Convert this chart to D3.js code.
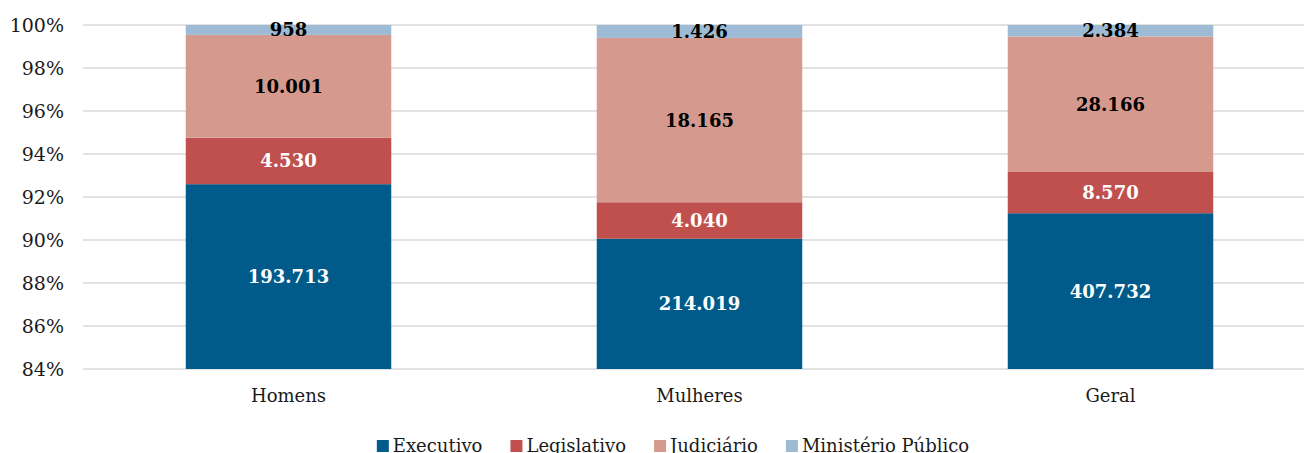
<!DOCTYPE html>
<html>
<head>
<meta charset="utf-8">
<script src="https://cdn.jsdelivr.net/npm/d3@7"></script>
<style>
  body { margin: 0; background: #fff; }
  svg { display: block; font-family: "DejaVu Serif", serif; }
</style>
</head>
<body>
<div id="chart"></div>
<script>
const categories = ["Homens", "Mulheres", "Geral"];
const seriesNames = ["Executivo", "Legislativo", "Judiciário", "Ministério Público"];
const executivo = [193713, 214019, 407732];
const legislativo = [4530, 4040, 8570];
const judiciario = [10001, 18165, 28166];
const ministerio = [958, 1426, 2384];
const yTicks = [0.84, 0.86, 0.88, 0.90, 0.92, 0.94, 0.96, 0.98, 1.00];

const colors = ["#005b8a", "#c0504d", "#d6998d", "#9dbbd5"];
const labelColors = ["#fff", "#fff", "#000", "#000"];

const width = 1304, height = 453;
const plotLeft = 83, plotRight = 1316, plotTop = 25, plotBottom = 369;

const svg = d3.select("#chart").append("svg")
    .attr("width", width)
    .attr("height", height);

const rows = categories.map((c, i) => {
    const vals = [executivo[i], legislativo[i], judiciario[i], ministerio[i]];
    const total = d3.sum(vals);
    let acc = 0;
    const segs = vals.map((v, k) => {
        const s = {cat: c, key: k, value: v, y0: acc / total, y1: (acc + v) / total};
        acc += v;
        return s;
    });
    return {cat: c, segs: segs};
});

const x = d3.scaleBand()
    .domain(categories)
    .range([plotLeft, plotRight])
    .paddingInner(0.5)
    .paddingOuter(0.25);

const y = d3.scaleLinear()
    .domain([0.84, 1])
    .range([plotBottom, plotTop]);

// grid
svg.append("g")
    .selectAll("line")
    .data(yTicks)
    .join("line")
    .attr("x1", plotLeft)
    .attr("x2", width)
    .attr("y1", d => y(d))
    .attr("y2", d => y(d))
    .attr("stroke", "#d9d9d9")
    .attr("stroke-width", 1.5);

// y labels
svg.append("g")
    .selectAll("text")
    .data(yTicks)
    .join("text")
    .attr("x", 64)
    .attr("y", d => y(d))
    .attr("dy", "0.35em")
    .attr("text-anchor", "end")
    .attr("font-size", 19)
    .attr("fill", "#1a1a1a")
    .text(d => d3.format(".0%")(d));

const locale = d3.formatLocale({decimal: ",", thousands: ".", grouping: [3], currency: ["R$", ""]});
const fmt = locale.format(",d");

const clampY = v => y(Math.max(v, 0.84));

const bars = svg.append("g")
    .selectAll("g")
    .data(rows)
    .join("g");

bars.selectAll("rect")
    .data(d => d.segs)
    .join("rect")
    .attr("x", d => x(d.cat))
    .attr("width", x.bandwidth())
    .attr("y", d => clampY(d.y1))
    .attr("height", d => clampY(d.y0) - clampY(d.y1))
    .attr("fill", d => colors[d.key]);

bars.selectAll("text")
    .data(d => d.segs)
    .join("text")
    .attr("x", d => x(d.cat) + x.bandwidth() / 2)
    .attr("y", d => (clampY(d.y0) + clampY(d.y1)) / 2)
    .attr("dy", "0.36em")
    .attr("text-anchor", "middle")
    .attr("font-size", 18)
    .attr("font-weight", "bold")
    .attr("fill", d => labelColors[d.key])
    .text(d => fmt(d.value));

// category labels
svg.append("g")
    .selectAll("text")
    .data(categories)
    .join("text")
    .attr("x", d => x(d) + x.bandwidth() / 2)
    .attr("y", 396)
    .attr("dy", "0.35em")
    .attr("text-anchor", "middle")
    .attr("font-size", 18)
    .attr("fill", "#1a1a1a")
    .text(d => d);

// legend
const legend = svg.append("g");
const items = legend.selectAll("g")
    .data(seriesNames)
    .join("g");
items.append("rect")
    .attr("width", 12)
    .attr("height", 12)
    .attr("y", -6)
    .attr("fill", (d, i) => colors[i]);
items.append("text")
    .attr("x", 16)
    .attr("dy", "0.35em")
    .attr("font-size", 18)
    .attr("fill", "#1a1a1a")
    .text(d => d);

let lx = 0;
items.each(function() {
    const w = this.getBBox().width;
    d3.select(this).attr("transform", `translate(${lx},0)`);
    lx += w + 28;
});
const legendWidth = lx - 28;
legend.attr("transform", `translate(${673 - legendWidth / 2},446)`);
</script>
</body>
</html>
